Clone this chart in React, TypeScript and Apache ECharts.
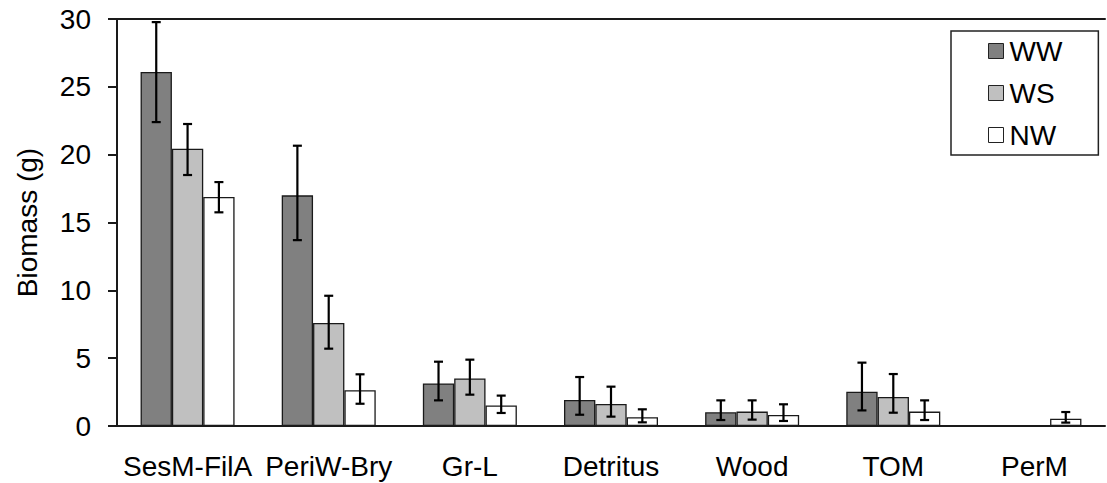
import React, { useEffect, useRef } from "react";
import * as echarts from "echarts";

const categories = ["SesM-FilA", "PeriW-Bry", "Gr-L", "Detritus", "Wood", "TOM", "PerM"];
const seriesNames = ["WW", "WS", "NW"];
const wwValues = [26.1, 17.0, 3.14, 1.92, 1.01, 2.53, 0];
const wsValues = [20.44, 7.59, 3.51, 1.62, 1.06, 2.14, 0];
const nwValues = [16.88, 2.63, 1.52, 0.64, 0.81, 1.06, 0.54];
// error bar bounds (upper / lower ends)
const wwUpper = [29.77, 20.66, 4.74, 3.61, 1.89, 4.67, 0];
const wwLower = [22.4, 13.7, 1.89, 0.83, 0.44, 1.15, 0];
const wsUpper = [22.26, 9.6, 4.89, 2.9, 1.89, 3.83, 0];
const wsLower = [18.5, 5.7, 2.31, 0.69, 0.47, 0.98, 0];
const nwUpper = [17.98, 3.81, 2.24, 1.23, 1.6, 1.89, 1.03];
const nwLower = [15.75, 1.64, 0.96, 0.27, 0.37, 0.44, 0.25];
const yTicks = { min: 0, max: 30, interval: 5 };
const colors = ["#808080", "#c0c0c0", "#ffffff"];

const FONT = "Liberation Sans, Arial, sans-serif";
const BAR_FRAC = 0.222;

export default function App() {
  const ref = useRef<HTMLDivElement>(null);
  useEffect(() => {
    if (!ref.current) return;
    const chart = echarts.init(ref.current, null, { renderer: "svg" });
    const values = [wwValues, wsValues, nwValues];
    const uppers = [wwUpper, wsUpper, nwUpper];
    const lowers = [wwLower, wsLower, nwLower];

    const barSeries = seriesNames.map((name, i) => ({
      name,
      type: "bar",
      data: values[i],
      barWidth: BAR_FRAC * 100 + "%",
      barGap: "0%",
      itemStyle: { color: colors[i], borderColor: "#1a1a1a", borderWidth: 1.3 },
      emphasis: { disabled: true },
    }));

    const errSeries = seriesNames.map((name, i) => ({
      name: name + "-err",
      type: "custom",
      silent: true,
      z: 10,
      data: values[i].map((v, k) => [k, uppers[i][k], lowers[i][k]]),
      renderItem: (params: any, api: any) => {
        const k = api.value(0);
        const hi = api.value(1);
        const lo = api.value(2);
        if (!hi) return { type: "group", children: [] };
        const band = api.size([1, 0])[0];
        const off = (i - 1) * band * BAR_FRAC;
        const top = api.coord([k, hi]);
        const bot = api.coord([k, lo]);
        const x = top[0] + off;
        const cap = 4.5;
        const style = { stroke: "#000", lineWidth: 2.2 };
        return {
          type: "group",
          children: [
            { type: "line", shape: { x1: x, y1: top[1], x2: x, y2: bot[1] }, style },
            { type: "line", shape: { x1: x - cap, y1: top[1], x2: x + cap, y2: top[1] }, style },
            { type: "line", shape: { x1: x - cap, y1: bot[1], x2: x + cap, y2: bot[1] }, style },
          ],
        };
      },
    }));

    chart.setOption({
      animation: false,
      textStyle: { fontFamily: FONT },
      grid: { left: 117, right: 2, top: 19, bottom: 57, containLabel: false },
      legend: {
        data: seriesNames.map((n, i) => ({
          name: n,
          itemStyle: { color: colors[i], borderColor: "#222", borderWidth: 1 },
        })),
        orient: "vertical",
        left: 951,
        top: 31,
        padding: [6, 36, 6, 37],
        itemWidth: 15,
        itemHeight: 15,
        itemGap: 14,
        borderColor: "#222",
        borderWidth: 1.5,
        icon: "rect",
        selectedMode: false,
        textStyle: { fontSize: 28, color: "#000", fontFamily: FONT, padding: [0, 0, 0, 1] },
      },
      xAxis: [
        {
          type: "category",
          data: categories,
          axisLine: { lineStyle: { color: "#1a1a1a", width: 2 } },
          axisTick: { show: false },
          axisLabel: { fontSize: 28, color: "#000", margin: 26, fontFamily: FONT, interval: 0 },
        },
        {
          type: "category",
          position: "top",
          data: categories,
          axisLine: { show: true, onZero: false, lineStyle: { color: "#1a1a1a", width: 2 } },
          axisTick: { show: false },
          axisLabel: { show: false },
        },
      ],
      yAxis: {
        type: "value",
        min: yTicks.min,
        max: yTicks.max,
        interval: yTicks.interval,
        name: "Biomass (g)",
        nameLocation: "middle",
        nameGap: 76,
        nameTextStyle: { fontSize: 28, color: "#000", fontFamily: FONT },
        axisLine: { show: true, lineStyle: { color: "#1a1a1a", width: 2 } },
        axisTick: { show: true, length: 9, lineStyle: { color: "#1a1a1a", width: 2 } },
        axisLabel: { fontSize: 28, color: "#000", margin: 26, fontFamily: FONT },
        splitLine: { show: false },
      },
      series: [...barSeries, ...errSeries],
    });
    return () => chart.dispose();
  }, []);
  return (
    <div
      ref={ref}
      style={{ position: "fixed", left: 0, top: 0, width: 1107, height: 483, background: "#fff" }}
    />
  );
}
